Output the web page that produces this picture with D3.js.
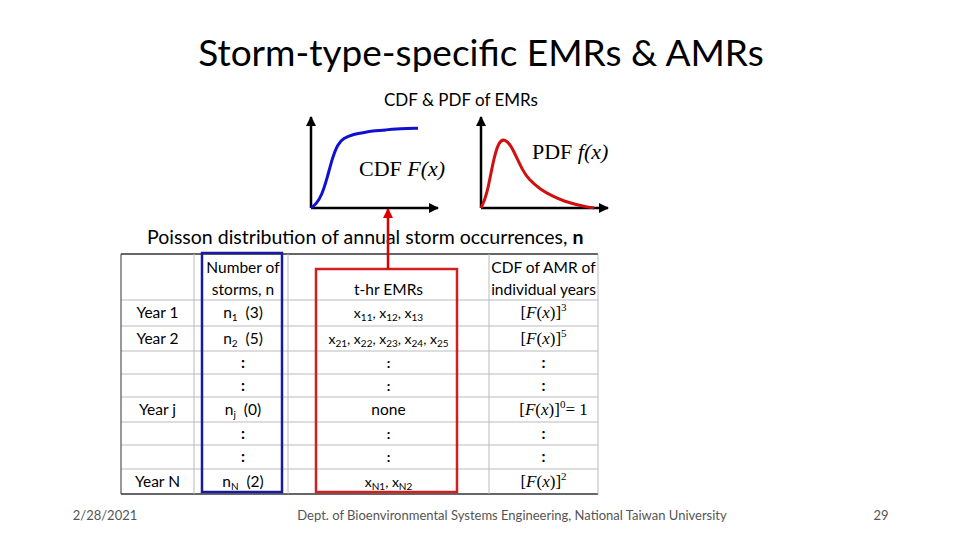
<!DOCTYPE html><html><head><meta charset="utf-8"><script src="https://cdn.jsdelivr.net/npm/d3@7"></script>
<style>body{margin:0;background:#fff}</style></head><body><svg id="c" width="960" height="540" font-family="Lato, 'Open Sans', sans-serif"></svg>
<script>
const cdfX=[0,0.05,0.1,0.15,0.2,0.25,0.3,0.4,0.5,0.6,0.7,0.8,0.9,1];
const cdfY=[0,0.05,0.15,0.35,0.6,0.76,0.83,0.88,0.9,0.92,0.93,0.94,0.945,0.95];
const pdfX=[0,0.05,0.1,0.15,0.2,0.25,0.3,0.35,0.4,0.5,0.6,0.7,0.8,0.9,0.95];
const pdfY=[0,0.15,0.55,0.8,0.82,0.75,0.6,0.45,0.34,0.22,0.14,0.08,0.04,0.01,0];
const rowLabels=["Year 1","Year 2","","","Year j","","","Year N"];
const nCol=[["n","1","(3)"],["n","2","(5)"],[":"],[":"],["n","j","(0)"],[":"],[":"],["n","N","(2)"]];
const emrCol=["x11, x12, x13","x21, x22, x23, x24, x25",":",":","none",":",":","xN1, xN2"];
const ampExp=["3","5","","","0","","","2"];
const SERIF="Liberation Serif, serif";
const svg=d3.select("#c");
svg.append("text").attr("x",481).attr("y",66).attr("text-anchor","middle").attr("font-size",37).text("Storm-type-specific EMRs & AMRs");
svg.append("text").attr("x",461).attr("y",106).attr("text-anchor","middle").attr("font-size",17).text("CDF & PDF of EMRs");
const defs=svg.append("defs");
defs.append("marker").attr("id","ah").attr("viewBox","0 0 10 10").attr("refX",9).attr("refY",5).attr("markerWidth",10).attr("markerHeight",10).attr("markerUnits","userSpaceOnUse").attr("orient","auto").append("path").attr("d","M0,0L10,5L0,10z").attr("fill","#000");
defs.append("marker").attr("id","ahr").attr("viewBox","0 0 10 10").attr("refX",9).attr("refY",5).attr("markerWidth",10).attr("markerHeight",12).attr("markerUnits","userSpaceOnUse").attr("orient","auto").append("path").attr("d","M0,0L10,5L0,10z").attr("fill","#d00");
function plot(x0,x1,xs,ys,color,label,ix,iy){
 const x=d3.scaleLinear().domain([0,1]).range([x0,x1]);
 const y=d3.scaleLinear().domain([0,1]).range([208,124]);
 svg.append("line").attr("x1",x0).attr("y1",208).attr("x2",x0).attr("y2",117).attr("stroke","#000").attr("stroke-width",2.5).attr("marker-end","url(#ah)");
 svg.append("line").attr("x1",x0).attr("y1",208).attr("x2",x0+127).attr("y2",208).attr("stroke","#000").attr("stroke-width",2.5).attr("marker-end","url(#ah)");
 svg.append("path").attr("d",d3.line().x(d=>x(d)).y((d,i)=>y(ys[i])).curve(d3.curveBasis)(xs)).attr("fill","none").attr("stroke",color).attr("stroke-width",3);
 const t=svg.append("text").attr("x",ix).attr("y",iy).attr("font-family",SERIF).attr("font-size",22);
 t.append("tspan").text(label[0]+"  ");t.append("tspan").attr("font-style","italic").text(label[1]);
}
plot(311,418,cdfX,cdfY,"#1010d0",["CDF","F(x)"],359,176);
plot(481,600,pdfX,pdfY,"#d01010",["PDF","f(x)"],532,159);
svg.append("text").attr("x",147).attr("y",244).attr("font-size",19.5).text("Poisson distribution of annual storm occurrences, ").append("tspan").attr("font-weight","bold").text("n");
const colX=[121,194,288,489,598];
const rowY=[254,300,326,351,374,397,422,445,469,494];
const g=svg.append("g");
rowY.forEach((y,i)=>g.append("line").attr("x1",121).attr("x2",598).attr("y1",y).attr("y2",y).attr("stroke",i==0||i==9?"#333":"#bbb").attr("stroke-width",i==0||i==9?1.5:1));
colX.forEach((x,i)=>g.append("line").attr("x1",x).attr("x2",x).attr("y1",254).attr("y2",494).attr("stroke",i==0?"#333":"#bbb").attr("stroke-width",1));
const cx=i=>(colX[i]+colX[i+1])/2;
const cy=i=>(rowY[i+1]+rowY[i+2])/2+5;
const FS=15.5;
g.append("text").attr("x",cx(1)+2).attr("y",273).attr("text-anchor","middle").attr("font-size",FS).text("Number of");
g.append("text").attr("x",cx(1)+2).attr("y",295).attr("text-anchor","middle").attr("font-size",FS).text("storms, n");
g.append("text").attr("x",cx(2)).attr("y",295).attr("text-anchor","middle").attr("font-size",FS).text("t-hr EMRs");
g.append("text").attr("x",cx(3)).attr("y",273).attr("text-anchor","middle").attr("font-size",FS).text("CDF of AMR of");
g.append("text").attr("x",cx(3)).attr("y",295).attr("text-anchor","middle").attr("font-size",FS).text("individual years");
rowLabels.forEach((l,i)=>g.append("text").attr("x",cx(0)).attr("y",cy(i)).attr("text-anchor","middle").attr("font-size",FS).text(l));
nCol.forEach((c,i)=>{const t=g.append("text").attr("x",cx(1)+2).attr("y",cy(i)).attr("text-anchor","middle").attr("font-size",FS);
 if(c.length==1){t.attr("font-weight","bold").text(c[0]);return;}
 t.append("tspan").text(c[0]);t.append("tspan").attr("font-size",10).attr("dy",3).text(c[1]);t.append("tspan").attr("dy",-3).text("\u00a0\u00a0"+c[2]);});
emrCol.forEach((e,i)=>{const t=g.append("text").attr("x",cx(2)).attr("y",cy(i)).attr("text-anchor","middle").attr("font-size",e=="none"?FS:14);
 if(e==":"||e=="none"){t.attr("font-weight",e==":"?"bold":null).text(e);return;}
 e.split(", ").forEach((p,k)=>{t.append("tspan").attr("dy",k?-3:0).text((k?", ":"")+p[0]);t.append("tspan").attr("font-size",10).attr("dy",3).text(p.slice(1));});});
ampExp.forEach((e,i)=>{const t=g.append("text").attr("x",cx(3)+(e=="0"?10:0)).attr("y",cy(i)).attr("text-anchor","middle").attr("font-family",e==""?null:SERIF).attr("font-size",17);
 if(e==""){t.attr("font-weight","bold").attr("font-size",FS).text(":");return;}
 t.append("tspan").text("[");t.append("tspan").attr("font-style","italic").text("F");t.append("tspan").text("(");t.append("tspan").attr("font-style","italic").text("x");t.append("tspan").text(")]");
 t.append("tspan").attr("font-size",11).attr("dy",-7).text(e);if(e=="0")t.append("tspan").attr("dy",7).text("= 1");});
svg.append("rect").attr("x",202).attr("y",253).attr("width",80).attr("height",239).attr("fill","none").attr("stroke","#1a1aa0").attr("stroke-width",2.5);
svg.append("rect").attr("x",316).attr("y",269).attr("width",141).attr("height",223).attr("fill","none").attr("stroke","#d02020").attr("stroke-width",2.5);
svg.append("line").attr("x1",388).attr("y1",269).attr("x2",388).attr("y2",209).attr("stroke","#d00").attr("stroke-width",2.5).attr("marker-end","url(#ahr)");
svg.append("text").attr("x",105).attr("y",520).attr("text-anchor","middle").attr("font-size",13).attr("fill","#555").text("2/28/2021");
svg.append("text").attr("x",512).attr("y",520).attr("text-anchor","middle").attr("font-size",13).attr("fill","#555").text("Dept. of Bioenvironmental Systems Engineering, National Taiwan University");
svg.append("text").attr("x",881).attr("y",520).attr("text-anchor","middle").attr("font-size",13).attr("fill","#555").text("29");
</script></body></html>
